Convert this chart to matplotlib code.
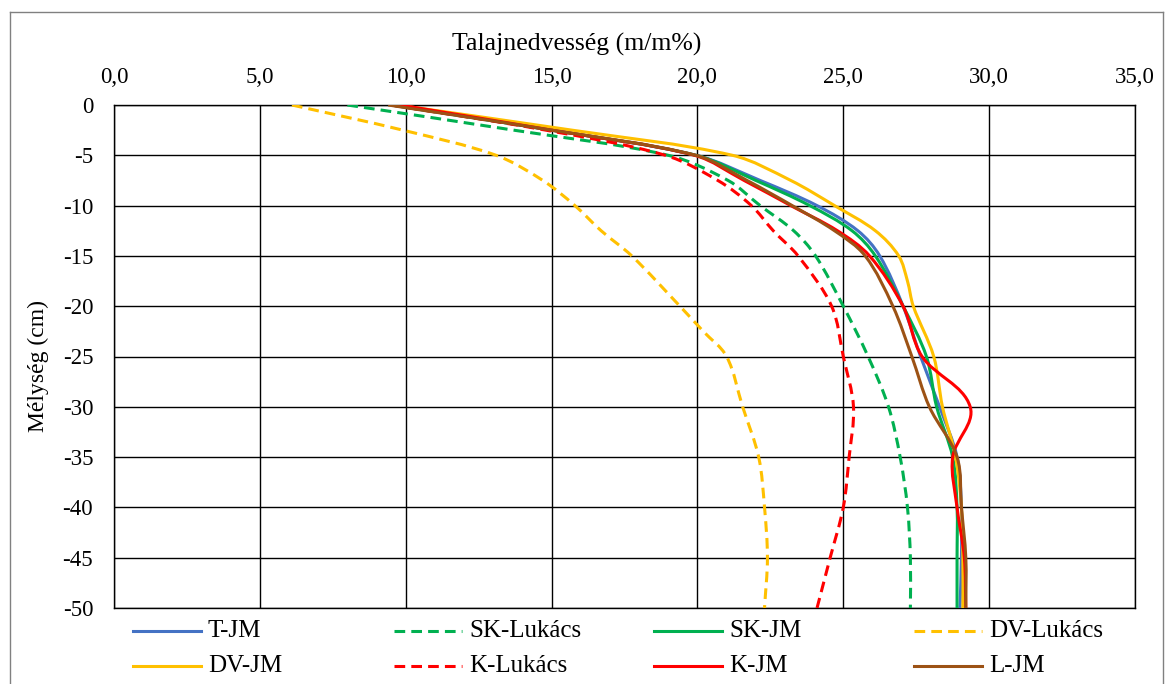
import numpy as np
import matplotlib
matplotlib.use("Agg")
import matplotlib.pyplot as plt
from matplotlib.path import Path
from matplotlib.patches import PathPatch
from matplotlib.lines import Line2D
from matplotlib.ticker import FuncFormatter

plt.rcParams['font.family'] = ['Liberation Serif', 'DejaVu Serif']

# depth of measurement (cm)
depth = [0, -2.5, -5, -7.5, -10, -12.5, -15, -20, -25, -30, -35, -40, -45, -50]

t_jm = [9.5, 15.0, 19.95, 22.15, 24.1, 25.5, 26.25, 27.05, 27.65, 28.3, 28.9, 29.05, 29.05, 29.0]
sk_lukacs = [8.0, 13.7, 19.0, 21.05, 22.15, 23.3, 24.05, 25.0, 25.85, 26.55, 26.95, 27.2, 27.3, 27.3]
sk_jm = [9.5, 15.0, 19.95, 22.0, 23.85, 25.3, 26.1, 27.05, 27.85, 28.2, 28.75, 28.9, 28.9, 28.9]
k_lukacs = [9.5, 14.8, 18.9, 20.7, 21.85, 22.6, 23.45, 24.6, 25.0, 25.35, 25.2, 25.0, 24.55, 24.1]
k_jm = [9.8, 15.0, 19.9, 21.6, 23.2, 24.8, 25.9, 27.05, 27.7, 29.35, 28.75, 28.9, 29.15, 29.2]
l_jm = [9.4, 15.0, 19.95, 21.7, 23.25, 24.7, 25.75, 26.7, 27.35, 27.95, 28.9, 29.05, 29.2, 29.2]

# DV-JM has an extra reading near the kink
dv_jm_depth = [0, -2.5, -5, -7.5, -10, -12.5, -15, -17.5, -20, -25, -30, -35, -40, -45, -50]
dv_jm = [9.7, 15.7, 21.2, 23.2, 24.7, 26.1, 26.9, 27.2, 27.4, 28.1, 28.4, 28.85, 29.05, 29.1, 29.1]

dv_lukacs_depth = [0, -2.5, -5, -7.5, -10, -12.5, -15, -20, -22.5, -25, -30, -35, -40, -45, -50]
dv_lukacs = [6.1, 9.9, 13.1, 14.7, 15.8, 16.7, 17.75, 19.4, 20.2, 21.0, 21.55, 22.1, 22.3, 22.4, 22.3]

dash = (0, (3.5, 2))
series = [
    ("T-JM", t_jm, depth, "#4472C4", "-"),
    ("SK-Lukács", sk_lukacs, depth, "#00B050", dash),
    ("SK-JM", sk_jm, depth, "#00B050", "-"),
    ("DV-Lukács", dv_lukacs, dv_lukacs_depth, "#FFC000", dash),
    ("DV-JM", dv_jm, dv_jm_depth, "#FFC000", "-"),
    ("K-Lukács", k_lukacs, depth, "#FF0000", dash),
    ("K-JM", k_jm, depth, "#FF0000", "-"),
    ("L-JM", l_jm, depth, "#9C5215", "-"),
]

# rough pixel size of one data unit, so smoothing is done in screen proportions
SX, SY = 29.17, 10.06


def smooth_path(xs, ys):
    # cubic bezier through the points, tangents scaled by segment lengths
    p = np.column_stack([np.asarray(xs) * SX, np.asarray(ys) * SY])
    n = len(p)
    seg = np.linalg.norm(np.diff(p, axis=0), axis=1)
    tang = []
    for i in range(n):
        a = p[i - 1] if i > 0 else p[i]
        b = p[i + 1] if i < n - 1 else p[i]
        d = b - a
        tang.append(d / (np.linalg.norm(d) + 1e-9))
    verts = [p[0]]
    codes = [Path.MOVETO]
    for i in range(n - 1):
        L = seg[i] / 3.0
        c1 = p[i] + tang[i] * L
        c2 = p[i + 1] - tang[i + 1] * L
        verts += [c1, c2, p[i + 1]]
        codes += [Path.CURVE4] * 3
    v = np.array(verts)
    v[:, 0] /= SX
    v[:, 1] /= SY
    return Path(v, codes)


fig = plt.figure(figsize=(11.7, 6.84), dpi=100)
ax = fig.add_axes([114 / 1170, 1 - 608 / 684, (1135 - 114) / 1170, (608 - 105) / 684])

lw = 2.2
for k, (name, xs, ys, col, ls) in enumerate(series):
    patch = PathPatch(smooth_path(xs, ys), fill=False, edgecolor=col,
                      linewidth=lw, linestyle=ls, zorder=3 + k,
                      capstyle='butt', joinstyle='round')
    ax.add_patch(patch)

ax.set_xlim(0, 35)
ax.set_ylim(-50, 0)
ax.set_xticks(np.arange(0, 36, 5))
ax.set_yticks(np.arange(-50, 1, 5))
ax.xaxis.tick_top()
ax.xaxis.set_major_formatter(FuncFormatter(lambda v, p: f"{v:.1f}".replace(".", ",")))
ax.yaxis.set_major_formatter(FuncFormatter(lambda v, p: f"{v:.0f}"))
ax.tick_params(length=0, labelsize=16.5)
ax.tick_params(axis='y', pad=15)
ax.tick_params(axis='x', pad=12)
ax.grid(True, color='black', linewidth=1.0)
ax.set_axisbelow(True)
for s in ax.spines.values():
    s.set_color('black')
    s.set_linewidth(1.0)

fig.text(577 / 1170, 1 - 44 / 684, "Talajnedvesség (m/m%)", ha='center', va='center', fontsize=18.5)
fig.text(38 / 1170, 1 - 366 / 684, "Mélység (cm)", ha='center', va='center',
         rotation=90, fontsize=17)

# legend, 4 equal columns
col_x = [133, 394, 654, 914]
row_y = [631, 666]
for k, (name, xs, ys, col, ls) in enumerate(series):
    r, c = divmod(k, 4)
    x0 = col_x[c] / 1170
    x1 = (col_x[c] + 68) / 1170
    y = 1 - row_y[r] / 684
    fig.add_artist(Line2D([x0, x1], [y, y], color=col, linewidth=lw, linestyle=ls,
                          transform=fig.transFigure))
    fig.text(x1 + 7 / 1170, y, name, ha='left', va='center', fontsize=18)

# outer chart border
fig.add_artist(Line2D([10 / 1170, 10 / 1170], [-0.01, 1 - 12 / 684], color='#808080',
                      linewidth=1.0, transform=fig.transFigure))
fig.add_artist(Line2D([10 / 1170, 1163 / 1170], [1 - 12 / 684, 1 - 12 / 684], color='#808080',
                      linewidth=1.0, transform=fig.transFigure))
fig.add_artist(Line2D([1163 / 1170, 1163 / 1170], [-0.01, 1 - 12 / 684], color='#808080',
                      linewidth=1.0, transform=fig.transFigure))

fig.savefig("out.png", dpi=100)
